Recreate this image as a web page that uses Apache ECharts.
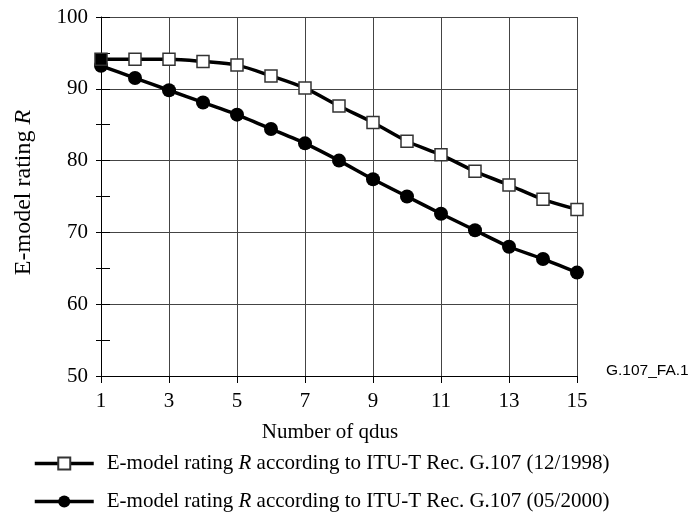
<!DOCTYPE html>
<html>
<head>
<meta charset="utf-8">
<script src="https://cdn.jsdelivr.net/npm/echarts@6/dist/echarts.min.js"></script>
<style>
html,body{margin:0;padding:0;background:#fff;}
#c{width:691px;height:528px;}
</style>
</head>
<body>
<div id="c"></div>
<script>
var categories = ['1','2','3','4','5','6','7','8','9','10','11','12','13','14','15'];
var rating1998 = [94.1, 94.1, 94.1, 93.8, 93.3, 91.8, 90.1, 87.6, 85.3, 82.7, 80.8, 78.5, 76.6, 74.6, 73.2];
var rating2000 = [93.2, 91.5, 89.8, 88.1, 86.4, 84.4, 82.4, 80.0, 77.4, 75.0, 72.6, 70.3, 68.0, 66.3, 64.4];
var yTicks = [50, 60, 70, 80, 90, 100];
var seriesNames = ['E-model rating R according to ITU-T Rec. G.107 (12/1998)',
                   'E-model rating R according to ITU-T Rec. G.107 (05/2000)'];

var serif = 'Liberation Serif, Times New Roman, serif';
var chart = echarts.init(document.getElementById('c'), null, {renderer: 'canvas'});

var d1998 = rating1998.map(function (v, i) {
  return i === 0 ? {value: v, itemStyle: {color: '#000'}} : v;
});

function legendFmt(name) {
  var parts = name.split(' R ');
  return '{a|' + parts[0] + ' }{i|R}{a| ' + parts[1] + '}';
}

chart.setOption({
  animation: false,
  grid: {left: 101, right: 114, top: 17, bottom: 152, containLabel: false},
  xAxis: {
    type: 'category',
    data: categories,
    boundaryGap: false,
    name: 'Number of qdus',
    nameLocation: 'middle',
    nameGap: 46,
    nameTextStyle: {fontFamily: serif, fontSize: 21, color: '#000', padding: [0, 18, 0, 0]},
    axisLine: {lineStyle: {color: '#000', width: 1}},
    axisTick: {show: true, interval: 1, length: 7, lineStyle: {color: '#000'}},
    axisLabel: {interval: 1, fontFamily: serif, fontSize: 21, color: '#000', margin: 15},
    splitLine: {show: true, interval: 1, lineStyle: {color: '#444', width: 1}}
  },
  yAxis: [{
    type: 'value',
    min: 50, max: 100, interval: 10,
    name: '{a|E-model rating }{i|R}',
    nameLocation: 'middle',
    nameGap: 65,
    nameTextStyle: {
      color: '#000',
      padding: [0, 0, 0, 8],
      rich: {
        a: {fontFamily: serif, fontSize: 24, color: '#000'},
        i: {fontFamily: serif, fontSize: 24, fontStyle: 'italic', color: '#000'}
      }
    },
    axisLine: {show: true, lineStyle: {color: '#000', width: 1}},
    axisTick: {show: true, length: 5, lineStyle: {color: '#000'}},
    minorTick: {show: true, splitNumber: 2, length: 5, lineStyle: {color: '#000'}},
    axisLabel: {
      fontFamily: serif, fontSize: 21, color: '#000', margin: 13,
      customValues: yTicks
    },
    splitLine: {show: true, lineStyle: {color: '#444', width: 1}}
  }, {
    type: 'value',
    min: 50, max: 100, interval: 5,
    position: 'left',
    axisLine: {show: false},
    axisTick: {show: true, inside: true, length: 9, lineStyle: {color: '#000'}},
    axisLabel: {show: false},
    splitLine: {show: false}
  }],
  legend: {
    orient: 'vertical',
    left: 28,
    top: 448,
    itemWidth: 59,
    itemHeight: 15,
    itemGap: 17,
    formatter: legendFmt,
    lineStyle: {width: 3.5},
    textStyle: {
      color: '#000',
      padding: [0, 0, 0, 8],
      rich: {
        a: {fontFamily: serif, fontSize: 21, color: '#000'},
        i: {fontFamily: serif, fontSize: 21, fontStyle: 'italic', color: '#000'}
      }
    },
    data: seriesNames
  },
  graphic: [{
    type: 'text',
    left: 606,
    top: 363,
    style: {text: 'G.107_FA.1', font: '15.5px Liberation Sans, Arial, sans-serif', fill: '#000'}
  }],
  series: [{
    name: seriesNames[0],
    type: 'line',
    data: d1998,
    smooth: 0.3,
    symbol: 'rect',
    symbolSize: 12,
    lineStyle: {color: '#000', width: 3.5},
    itemStyle: {color: '#fff', borderColor: '#333', borderWidth: 1.5},
    z: 3
  }, {
    name: seriesNames[1],
    type: 'line',
    data: rating2000,
    smooth: 0.2,
    symbol: 'circle',
    symbolSize: 14,
    lineStyle: {color: '#000', width: 3.5},
    itemStyle: {color: '#000', borderColor: '#000', borderWidth: 0},
    z: 2
  }]
});
</script>
</body>
</html>
